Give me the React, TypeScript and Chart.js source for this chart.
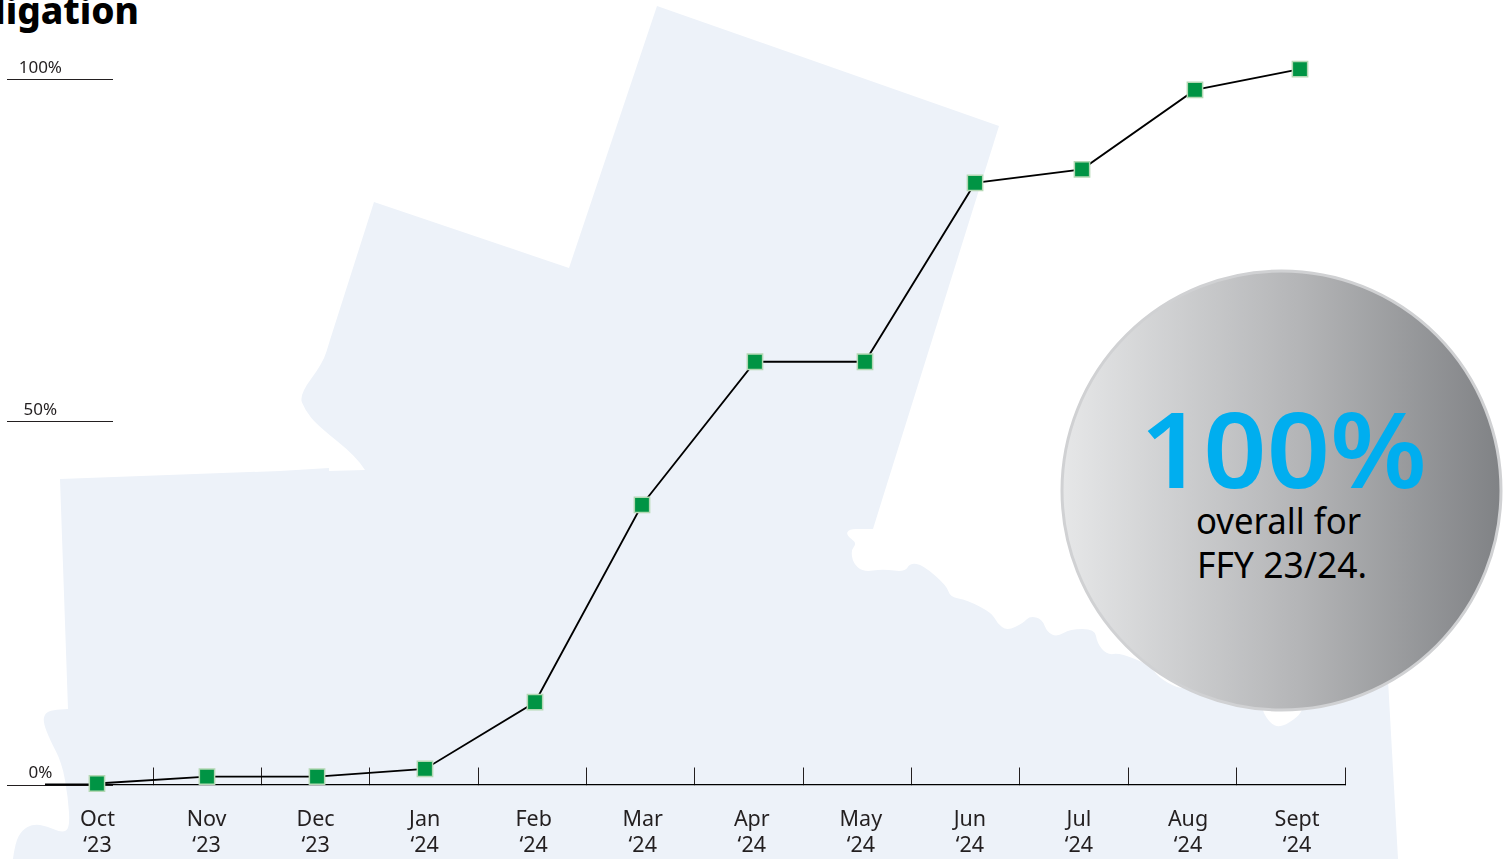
import React, { useEffect, useRef } from "react";
import { Chart, registerables } from "chart.js";

Chart.register(...registerables);

const monthLabels = ["Oct", "Nov", "Dec", "Jan", "Feb", "Mar", "Apr", "May", "Jun", "Jul", "Aug", "Sept"];
const yearLabels = ["‘23", "‘23", "‘23", "‘24", "‘24", "‘24", "‘24", "‘24", "‘24", "‘24", "‘24", "‘24"];
// Month position of each marker as it sits on the picture, slightly off the label centres
const monthPositions = [-0.005, 1.004, 2.013, 3.003, 4.012, 4.993, 6.029, 7.038, 8.047, 9.028, 10.064, 11.027];
const obligationPercent = [0.14, 1.1, 1.1, 2.17, 11.5, 39.1, 59.1, 59.1, 84.1, 86, 97.1, 100];
const yTickValues = [0, 50.8, 98.6];
const yTickLabels = ["0%", "50%", "100%"];
const monthDividers = [1, 2, 3, 4, 5, 6, 7, 8, 9, 10, 11, 12];

const FONT = "'Noto Sans', 'Open Sans', sans-serif";

type P = [number, number];
const smooth = (pts: P[]) => {
  let d = ` L${pts[0][0]},${pts[0][1]}`;
  for (let i = 1; i < pts.length - 1; i++) {
    const mx = (pts[i][0] + pts[i + 1][0]) / 2;
    const my = (pts[i][1] + pts[i + 1][1]) / 2;
    d += ` Q${pts[i][0]},${pts[i][1]} ${mx},${my}`;
  }
  const l = pts[pts.length - 1];
  return d + ` L${l[0]},${l[1]}`;
};

const coast: P[] = [
  [873, 529], [863, 529], [849, 529], [846, 535], [857, 543], [851, 550], [853, 563], [863, 572], [883, 569], [905, 572],
  [910, 563], [923, 565], [947, 586], [950, 597], [967, 600], [992, 613], [997, 623], [1007, 631], [1023, 623],
  [1030, 616], [1042, 619], [1047, 632], [1057, 637], [1070, 629], [1095, 629], [1097, 643], [1107, 655], [1120, 653],
  [1150, 665], [1158, 677], [1177, 688], [1190, 688], [1263, 706], [1263, 712], [1270, 723], [1280, 728], [1298, 717], [1303, 708],
];
const westBay: P[] = [
  [13, 859], [15, 843], [22, 830], [33, 824], [47, 826], [62, 833], [70, 828], [68, 797], [62, 763], [50, 740], [43, 722], [45, 713],
  [53, 710], [68, 709],
];
const northBay: P[] = [[365, 470], [357, 457], [317, 425], [305, 410], [299, 395], [323, 363], [330, 340]];

const REGION =
  "M657,6 L999,126 L882,500" +
  smooth(coast) +
  " L1388,680 L1398,859" +
  smooth(westBay) +
  " L60,479 L280,471 L329,468 L329,471" +
  smooth(northBay) +
  " L374,202 L569,268 Z";

const shortGrid = {
  id: "shortGrid",
  beforeDatasetsDraw(chart: any) {
    const { ctx, scales } = chart;
    ctx.save();
    ctx.strokeStyle = "#231f20";
    ctx.lineWidth = 1;
    yTickValues.forEach((v) => {
      const y = Math.round(scales.y.getPixelForValue(v)) + 0.5;
      ctx.beginPath();
      ctx.moveTo(7, y);
      ctx.lineTo(113, y);
      ctx.stroke();
    });
    ctx.lineWidth = 2;
    ctx.strokeStyle = "#000";
    const y0 = scales.y.getPixelForValue(0);
    ctx.beginPath();
    ctx.moveTo(scales.xBounds.getPixelForValue(0), y0);
    ctx.lineTo(scales.x.getPixelForValue(0), y0);
    ctx.stroke();
    ctx.restore();
  },
};

export default function App() {
  const ref = useRef<HTMLCanvasElement>(null);

  useEffect(() => {
    const chart = new Chart(ref.current as HTMLCanvasElement, {
      type: "line",
      data: {
        datasets: [
          {
            xAxisID: "x",
            yAxisID: "y",
            data: monthPositions.map((x, i) => ({ x, y: obligationPercent[i] })),
            borderColor: "#000",
            borderWidth: 1.8,
            tension: 0,
            pointStyle: "rect",
            pointRadius: 10.8,
            pointBackgroundColor: "#009444",
            pointBorderColor: "#b4d8b4",
            pointBorderWidth: 1.5,
            clip: false,
          },
        ],
      },
      options: {
        responsive: false,
        animation: false,
        events: [],
        layout: { padding: { left: 0, right: 158, top: 0, bottom: 0 } },
        plugins: { legend: { display: false }, title: { display: false }, tooltip: { enabled: false } },
        scales: {
          xBounds: {
            type: "linear",
            position: "bottom",
            weight: -1,
            min: (70 - 45) / 108.333,
            max: 12,
            afterBuildTicks: (s: any) => {
              s.ticks = monthDividers.map((value) => ({ value }));
            },
            afterFit: (s: any) => {
              s.height = 0;
              s.paddingLeft = 0;
              s.paddingRight = 0;
            },
            ticks: { display: false },
            border: { display: true, color: "#000", width: 1.2 },
            grid: { drawOnChartArea: false, drawTicks: true, tickLength: -17, color: "#231f20", lineWidth: 1 },
          },
          x: {
            type: "linear",
            position: "bottom",
            weight: 1,
            min: (70 - 97.5) / 109.05,
            max: (1345 - 97.5) / 109.05,
            afterBuildTicks: (s: any) => {
              s.ticks = monthLabels.map((_, value) => ({ value }));
            },
            afterFit: (s: any) => {
              s.height = 74.5;
              s.paddingLeft = 0;
              s.paddingRight = 0;
            },
            border: { display: false },
            grid: { display: false },
            ticks: {
              autoSkip: false,
              maxRotation: 0,
              padding: 14,
              color: "#231f20",
              font: { family: FONT, size: 21.5, lineHeight: 1.21 },
              callback: (_v: any, i: number) => [monthLabels[i], yearLabels[i]],
            },
          },
          y: {
            type: "linear",
            position: "left",
            min: 0,
            max: 107.95,
            afterBuildTicks: (s: any) => {
              s.ticks = yTickValues.map((value) => ({ value }));
            },
            afterFit: (s: any) => {
              s.width = 70;
              s.paddingTop = 0;
              s.paddingBottom = 0;
            },
            border: { display: false },
            grid: { display: false, drawTicks: false },
            ticks: {
              autoSkip: false,
              crossAlign: "center",
              padding: 8,
              labelOffset: -11,
              color: "#231f20",
              font: { family: FONT, size: 17 },
              callback: (_v: any, i: number) => yTickLabels[i],
            },
          },
        },
      } as any,
      plugins: [shortGrid],
    });
    return () => chart.destroy();
  }, []);

  return (
    <div style={{ position: "fixed", left: 0, top: 0, width: 1503, height: 859, overflow: "hidden", background: "#fff" }}>
      <svg width={1503} height={859} style={{ position: "absolute", left: 0, top: 0 }}>
        <defs>
          <linearGradient id="disc" x1="0" y1="0" x2="1" y2="0">
            <stop offset="0" stopColor="#e6e7e8" />
            <stop offset="0.55" stopColor="#b3b4b6" />
            <stop offset="1" stopColor="#808285" />
          </linearGradient>
        </defs>
        <path d={REGION} fill="#edf2f9" />
        <circle cx={1281.5} cy={490.5} r={219.5} fill="url(#disc)" stroke="#d0d1d3" strokeWidth={3} />
        <text x={1140} y={488} fontFamily={FONT} fontWeight={600} fontSize={105} fill="#00aeef" textLength={287} lengthAdjust="spacingAndGlyphs">
          100%
        </text>
        <text x={1196} y={534} fontFamily={FONT} fontSize={36} fill="#000" textLength={165} lengthAdjust="spacingAndGlyphs">
          overall for
        </text>
        <text x={1197} y={578} fontFamily={FONT} fontSize={36} fill="#000" textLength={170} lengthAdjust="spacingAndGlyphs">
          FFY 23/24.
        </text>
        <text x={139} y={24} textAnchor="end" fontFamily={FONT} fontWeight={800} fontSize={37} fill="#000">
          ligation
        </text>
      </svg>
      <canvas ref={ref} width={1503} height={859} style={{ position: "absolute", left: 0, top: 0, display: "block" }} />
    </div>
  );
}
